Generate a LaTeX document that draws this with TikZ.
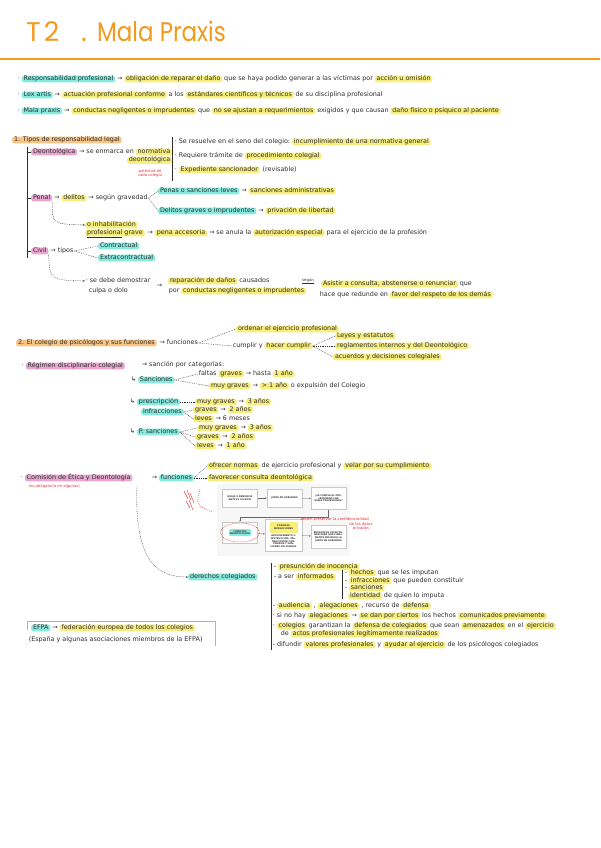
\documentclass[tikz,border=0pt]{standalone}
\usepackage{fontspec}
\setmainfont{DejaVu Sans}
\newfontfamily\titlefont{Poppins}
\usetikzlibrary{positioning,arrows.meta,shapes.geometric}
\definecolor{hlY}{HTML}{F8EE7C}
\definecolor{hlT}{HTML}{86EADF}
\definecolor{hlP}{HTML}{E8A6D0}
\definecolor{hlO}{HTML}{F9C585}
\definecolor{ttlO}{HTML}{F29A1E}
\definecolor{inkR}{HTML}{F0303A}
\definecolor{ink}{HTML}{2E2E2E}
\newcommand\fs{\fontsize{6.4}{7}\selectfont}
\newcommand\fsr{\fontsize{3.8}{4.3}\selectfont}
\newcommand\fsb{\fontsize{2.3}{2.8}\selectfont}
\begin{document}
\begin{tikzpicture}[x=1pt,y=-1pt, node distance=1pt, text=ink,
 tx/.style={inner xsep=0.6pt, inner ysep=0.5pt, text height=4.5pt, text depth=1.4pt, font=\fs},
 hl/.style={tx, rounded corners=2.4pt, inner xsep=1.8pt},
 hy/.style={hl, fill=hlY}, ht/.style={hl, fill=hlT}, hp/.style={hl, fill=hlP}, ho/.style={hl, fill=hlO},
 rtx/.style={font=\fsr, text=inkR, inner sep=0.3pt, align=center},
 dsh/.style={draw=ink, line width=0.35pt, dash pattern=on 0.9pt off 0.9pt},
 ln/.style={draw=ink, line width=0.4pt},
 tip/.style={-{Stealth[length=2pt,width=1.6pt]}},
 fbox/.style={draw=black!22, fill=white, minimum width=35pt, text width=32pt, align=center, font=\fsb\bfseries, inner sep=0.5pt, text=black!80},
 farr/.style={draw=black!60, line width=0.3pt, -{Stealth[length=1.6pt,width=1.4pt]}},
]
\useasboundingbox (0,0) rectangle (600,848);
\fill[white] (0,0) rectangle (600,848);
% title
\node[font=\titlefont\fontsize{27}{27}\selectfont, text=ttlO, anchor=base west, inner sep=0] (ttl) at (26,42) {T\kern3pt2};
\node[font=\titlefont\fontsize{27}{27}\selectfont, text=ttlO, anchor=base west, inner sep=0] (ttldot) at (81,42) {.};
\node[font=\titlefont\fontsize{27}{27}\selectfont, text=ttlO, anchor=base west, inner sep=0] (ttl2) at (97,42) {\scalebox{0.85}[1]{Mala Praxis}};
\coordinate (rl) at (0,59); \coordinate (rr) at (600,59);
\draw[ttlO, line width=1.1pt] (rl) -- (rr);
% intro lines
\node[tx, anchor=west] (l1a) at (17,79) {·};
\node[ht, right=of l1a] (l1b) {Responsabilidad profesional};
\node[tx, right=of l1b] (l1c) {→};
\node[hy, right=of l1c] (l1d) {obligación de reparar el daño};
\node[tx, right=of l1d] (l1e) {que se haya podido generar a las víctimas por};
\node[hy, right=of l1e] (l1f) {acción u omisión};
\node[tx, anchor=west] (l2a) at (17,95) {·};
\node[ht, right=of l2a] (l2b) {Lex artis};
\node[tx, right=of l2b] (l2c) {→};
\node[hy, right=of l2c] (l2d) {actuación profesional conforme};
\node[tx, right=of l2d] (l2e) {a los};
\node[hy, right=of l2e] (l2f) {estándares científicos y técnicos};
\node[tx, right=of l2f] (l2g) {de su disciplina profesional};
\node[tx, anchor=west] (l3a) at (17,111) {·};
\node[ht, right=of l3a] (l3b) {Mala praxis};
\node[tx, right=of l3b] (l3c) {→};
\node[hy, right=of l3c] (l3d) {conductas negligentes o imprudentes};
\node[tx, right=of l3d] (l3e) {que};
\node[hy, right=of l3e] (l3f) {no se ajustan a requerimientos};
\node[tx, right=of l3f] (l3g) {exigidos y que causan};
\node[hy, right=of l3g] (l3h) {daño físico o psíquico al paciente};
% section 1
\node[ho, anchor=west] (s1) at (12,140) {1. Tipos de responsabilidad legal};
\coordinate (v1t) at (27,147); \coordinate (v1b) at (27,258);
\draw[ln] (v1t) -- (v1b);
\coordinate (tk1) at (27,152); \coordinate (tk2) at (27,198); \coordinate (tk3) at (27,251);
\node[hp, anchor=west] (deo) at (31,152) {Deontológica};
\draw[ln] (tk1) -- (deo.west);
\node[tx, right=1pt of deo] (deo1) {→ se enmarca en};
\node[hy, right=of deo1] (deo2) {normativa};
\node[hy, anchor=north east] (deo3) at ([yshift=-1pt]deo2.south east) {deontológica};
\node[rtx, anchor=north] (deo4) at (150,169) {potestad de\\cada colegio};
\coordinate (bt) at (172,137); \coordinate (bb) at (172,181);
\draw[ln] (bt) -- (bb);
\node[tx, anchor=west] (b1a) at (174,142) {· Se resuelve en el seno del colegio:};
\node[hy, right=of b1a] (b1b) {incumplimiento de una normativa general};
\node[tx, anchor=west] (b2a) at (174,156) {· Requiere trámite de};
\node[hy, right=of b2a] (b2b) {procedimiento colegial};
\node[tx, anchor=west] (b3a) at (174,170) {·};
\node[hy, right=of b3a] (b3b) {Expediente sancionador};
\node[tx, right=2pt of b3b] (b3c) {(revisable)};
% penal
\node[hp, anchor=west] (penal) at (31,198) {Penal};
\draw[ln] (tk2) -- (penal.west);
\node[tx, right=of penal] (p1) {→};
\node[hy, right=of p1] (p2) {delitos};
\node[tx, right=of p2] (p3) {→ según gravedad};
\node[ht, anchor=west] (p4) at (158,191) {Penas o sanciones leves};
\node[tx, right=of p4] (p5) {→};
\node[hy, right=of p5] (p6) {sanciones administrativas};
\node[ht, anchor=west] (p7) at (158,211) {Delitos graves o imprudentes};
\node[tx, right=of p7] (p8) {→};
\node[hy, right=of p8] (p9) {privación de libertad};
\draw[dsh] (p3.east) -- (p4.west);
\draw[dsh] (p3.east) -- (p7.west);
\node[hy, anchor=west] (inh1) at (85,225) {o inhabilitación};
\node[hy, anchor=west] (inh2) at (85,233) {\underline{profesional} grave};
\draw[dsh, tip] (penal.south east) .. controls (52,224) .. (inh1.west);
\node[tx, right=2pt of inh2] (inh3) {→};
\node[hy, right=of inh3] (inh4) {pena accesoria};
\node[tx, right=of inh4] (inh5) {→ se anula la};
\node[hy, right=of inh5] (inh6) {autorización especial};
\node[tx, right=of inh6] (inh7) {para el ejercicio de la profesión};
% civil
\node[hp, anchor=west] (civ) at (31,251) {Civil};
\draw[ln] (tk3) -- (civ.west);
\node[tx, right=of civ] (c1) {→ tipos};
\node[ht, anchor=west] (c2) at (98,246) {Contractual};
\node[ht, anchor=west] (c3) at (98,258) {Extracontractual};
\draw[dsh] (c1.east) -- (c2.west);
\draw[dsh] (c1.east) -- (c3.west);
\node[tx, anchor=west] (c4) at (85,281) {· se debe demostrar};
\node[tx, anchor=west] (c5) at (88,291) {culpa o dolo};
\draw[dsh, tip] (civ.south east) .. controls (50,280) .. (c4.west);
\node[tx, anchor=west] (c6) at (156,286) {→};
\node[hy, anchor=west] (c7) at (168,281) {reparación de daños};
\node[tx, right=of c7] (c8) {causados};
\node[tx, anchor=west] (c9) at (168,291) {por};
\node[hy, right=of c9] (c10) {conductas negligentes o imprudentes};
\node[font=\fsr, inner sep=0.3pt] (c11) at (308,281) {\underline{según}};
\node[hy, anchor=west] (c12) at (321,284) {Asistir a consulta, abstenerse o renunciar};
\node[tx, right=of c12] (c13) {que};
\node[tx, anchor=west] (c14) at (319,295) {hace que redunde en};
\node[hy, right=of c14] (c15) {favor del respeto de los demás};
% section 2
\node[ho, anchor=west] (s2) at (16,343) {2. El colegio de psicólogos y sus funciones};
\node[tx, right=2pt of s2] (s2a) {→ funciones};
\node[hy, anchor=west] (s2b) at (236,329) {ordenar el ejercicio profesional};
\node[tx, anchor=west] (s2c) at (232,346) {cumplir y};
\node[hy, right=of s2c] (s2d) {hacer cumplir};
\draw[dsh] (s2a.east) -- (s2b.west);
\draw[dsh] (s2a.east) -- (s2c.west);
\node[hy, anchor=west] (s2e) at (335,336) {Leyes y estatutos};
\node[hy, anchor=west] (s2f) at (335,346) {reglamentos internos y del Deontológico};
\node[hy, anchor=west] (s2g) at (333,357) {acuerdos y decisiones colegiales};
\draw[dsh] (s2d.east) -- (s2e.west);
\draw[dsh] (s2d.east) -- (s2f.west);
\draw[dsh] (s2d.east) -- (s2g.west);
% regimen
\node[tx, anchor=west] (r0) at (21,366) {·};
\node[hp, right=of r0] (r1) {Régimen disciplinario colegial};
\node[tx, anchor=west] (r2) at (141,365) {→ sanción por categorías:};
\node[tx, anchor=west] (r3) at (130,380) {↳};
\node[ht, right=of r3] (r4) {Sanciones};
\node[tx, anchor=west] (r5) at (198,374) {faltas};
\node[hy, right=of r5] (r6) {graves};
\node[tx, right=of r6] (r7) {→ hasta};
\node[hy, right=of r7] (r8) {1 año};
\node[hy, anchor=west] (r9) at (209,386) {muy graves};
\node[tx, right=of r9] (r10) {→};
\node[hy, right=of r10] (r11) {> 1 año};
\node[tx, right=of r11] (r12) {o expulsión del Colegio};
\draw[dsh] (r4.east) -- (r5.west);
\draw[dsh] (r4.east) -- (r9.west);
\node[tx, anchor=west] (q0) at (129,402) {↳};
\node[ht, right=of q0] (q1) {prescripción};
\node[ht, anchor=west] (q2) at (141,412) {infracciones};
\node[hy, anchor=west] (q3) at (195,402) {muy graves};
\node[tx, right=of q3] (q4) {→};
\node[hy, right=of q4] (q5) {3 años};
\node[hy, anchor=west] (q6) at (193,410) {graves};
\node[tx, right=of q6] (q7) {→};
\node[hy, right=of q7] (q8) {2 años};
\node[hy, anchor=west] (q9) at (193,419) {leves};
\node[tx, right=of q9] (q10) {→ 6 meses};
\draw[dsh] (q1.east) -- (q3.west);
\draw[dsh] (q2.east) -- (q6.west);
\draw[dsh] (q2.east) -- (q9.west);
\node[tx, anchor=west] (u0) at (129,432) {↳};
\node[ht, right=of u0] (u1) {P. sanciones};
\node[hy, anchor=west] (u2) at (197,428) {muy graves};
\node[tx, right=of u2] (u3) {→};
\node[hy, right=of u3] (u4) {3 años};
\node[hy, anchor=west] (u5) at (195,437) {graves};
\node[tx, right=of u5] (u6) {→};
\node[hy, right=of u6] (u7) {2 años};
\node[hy, anchor=west] (u8) at (195,446) {leves};
\node[tx, right=of u8] (u9) {→};
\node[hy, right=of u9] (u10) {1 año};
\draw[dsh] (u1.east) -- (u2.west);
\draw[dsh] (u1.east) -- (u5.west);
\draw[dsh] (u1.east) -- (u8.west);
% section 3
\node[tx, anchor=west] (k0) at (20,478) {·};
\node[hp, right=of k0] (k1) {Comisión de Ética y Deontología};
\node[rtx, anchor=north west] (k2) at (28,484) {(no obligatoria en algunos)};
\node[tx, anchor=west] (k3) at (151,478) {→};
\node[ht, right=of k3] (k4) {funciones};
\node[hy, anchor=west] (k5) at (207,466) {ofrecer normas};
\node[tx, right=of k5] (k6) {de ejercicio profesional y};
\node[hy, right=of k6] (k7) {velar por su cumplimiento};
\node[hy, anchor=west] (k8) at (207,478) {favorecer consulta deontológica};
\draw[dsh] (k4.east) -- (k5.west);
\draw[dsh] (k4.east) -- (k8.west);
% red scribbles
\draw[inkR, line width=0.45pt] (184,491) -- (188,499) (187,490) -- (191,500) (190,493) -- (194,503)
  (186,501) -- (190,508) (189,500) -- (193,510);
\draw[inkR, line width=0.4pt, dash pattern=on 1pt off 1pt] (200,489) .. controls (196,505) .. (212,512);
% flowchart
\fill[black!3] (217,484) rectangle (350,556);
\node[fbox, minimum height=18pt] (fA) at (240,498) {QUEJA O DENUNCIA ANTE EL COLEGIO};
\node[fbox, minimum height=18pt] (fB) at (284.5,498) {JUNTA DE GOBIERNO};
\node[fbox, minimum height=22pt] (fC) at (328.5,498.5) {¿SE CUMPLE EL PROCEDIMIENTO DE QUEJA PROFESIONAL?};
\node[fbox, minimum height=21pt] (fD) at (240,532.5) {};
\node[fill=hlT, rounded corners=2pt, font=\fsb\bfseries, align=center, inner sep=1pt, text=black!80] (fDt) at (fD) {COMISIÓN\\DEONTOLÓGICA};
\node[draw=inkR, line width=0.4pt, dash pattern=on 1pt off 0.8pt, ellipse, minimum width=39pt, minimum height=19pt, inner sep=0] (fDe) at (fD) {};
\node[fbox, minimum height=32pt, minimum width=37pt] (fE) at (283.5,535) {\colorbox{hlY}{\parbox{22pt}{\centering POSIBLES INFRACCIONES}}\\[1pt] ARCHIVAMIENTO O INSTRUCCIÓN, VALORACIÓN DE CONTENIDOS Y SANCIONES APLICABLES};
\node[fbox, minimum height=23pt] (fF) at (328.5,536.5) {EMISIÓN DE UN DICTAMEN PARA QUE FINALMENTE RESUELVA LA JUNTA DE GOBIERNO};
\draw[farr] (fA) -- (fB);
\draw[farr] (fB) -- (fC);
\draw[farr] (fC.south) -- ++(0,7) -| (fD.north);
\draw[farr] (fD) -- (fE);
\draw[farr] (fE) -- (fF);
\node[rtx, anchor=west] (rr1) at (300,519) {deben preservar la confidencialidad};
\node[rtx, anchor=north] (rr2) at (361,522) {de los datos\\privados};
% derechos
\coordinate (kc) at (137,486);
\node[ht, anchor=west] (der) at (188,577) {derechos colegiados};
\draw[dsh, tip] (kc) .. controls (134,565) and (160,577) .. (der.west);
\coordinate (dbt) at (271,563); \coordinate (dbb) at (271,650);
\draw[ln] (dbt) -- (dbb);
\node[tx, anchor=west] (d1) at (273,567) {-};
\node[hy, right=of d1] (d2) {presunción de inocencia};
\node[tx, anchor=west] (d3) at (273,577) {- a ser};
\node[hy, right=of d3] (d4) {informados};
\coordinate (d5t) at (342,570); \coordinate (d5b) at (342,599);
\draw[ln] (d5t) -- (d5b);
\node[tx, anchor=west] (d6) at (344,573) {-};
\node[hy, right=of d6] (d7) {hechos};
\node[tx, right=of d7] (d8) {que se les imputan};
\node[tx, anchor=west] (d9) at (344,581) {-};
\node[hy, right=of d9] (d10) {infracciones};
\node[tx, right=of d10] (d11) {que pueden constituir};
\node[tx, anchor=west] (d12) at (344,588) {-};
\node[hy, right=of d12] (d13) {sanciones};
\node[hy, anchor=west] (d14) at (348,596) {identidad};
\node[tx, right=of d14] (d15) {de quien lo imputa};
\node[tx, anchor=west] (d16) at (272,606) {-};
\node[hy, right=of d16] (d17) {audiencia};
\node[tx, right=of d17] (d18) {,};
\node[hy, right=of d18] (d19) {alegaciones};
\node[tx, right=of d19] (d20) {, recurso de};
\node[hy, right=of d20] (d21) {defensa};
\node[tx, anchor=west] (d22) at (272,616) {· si no hay};
\node[hy, right=of d22] (d23) {alegaciones};
\node[tx, right=of d23] (d24) {→};
\node[hy, right=of d24] (d25) {se dan por ciertos};
\node[tx, right=of d25] (d26) {los hechos};
\node[hy, right=of d26] (d27) {comunicados previamente};
\node[tx, anchor=west] (d28) at (272,626) {·};
\node[hy, right=of d28] (d29) {colegios};
\node[tx, right=of d29] (d30) {garantizan la};
\node[hy, right=of d30] (d31) {defensa de colegiados};
\node[tx, right=of d31] (d32) {que sean};
\node[hy, right=of d32] (d33) {amenazados};
\node[tx, right=of d33] (d34) {en el};
\node[hy, right=of d34] (d35) {ejercicio};
\node[tx, anchor=west] (d36) at (280,634) {de};
\node[hy, right=of d36] (d37) {actos profesionales legítimamente realizados};
\node[tx, anchor=west] (d38) at (272,645) {- difundir};
\node[hy, right=of d38] (d39) {valores profesionales};
\node[tx, right=of d39] (d40) {y};
\node[hy, right=of d40] (d41) {ayudar al ejercicio};
\node[tx, right=of d41] (d42) {de los psicólogos colegiados};
% EFPA
\coordinate (eb1) at (27,630); \coordinate (eb2) at (27,621); \coordinate (eb3) at (215,621); \coordinate (eb4) at (215,646);
\draw[black!30, line width=0.7pt] (eb1) -- (eb2) -- (eb3) -- (eb4);
\node[ht, anchor=west] (e1) at (31,628) {EFPA};
\node[tx, right=of e1] (e2) {→};
\node[hy, right=of e2] (e3) {federación europea de todos los colegios};
\node[tx, anchor=west] (e4) at (28,640) {(España y algunas asociaciones miembros de la EFPA)};
\end{tikzpicture}
\end{document}
